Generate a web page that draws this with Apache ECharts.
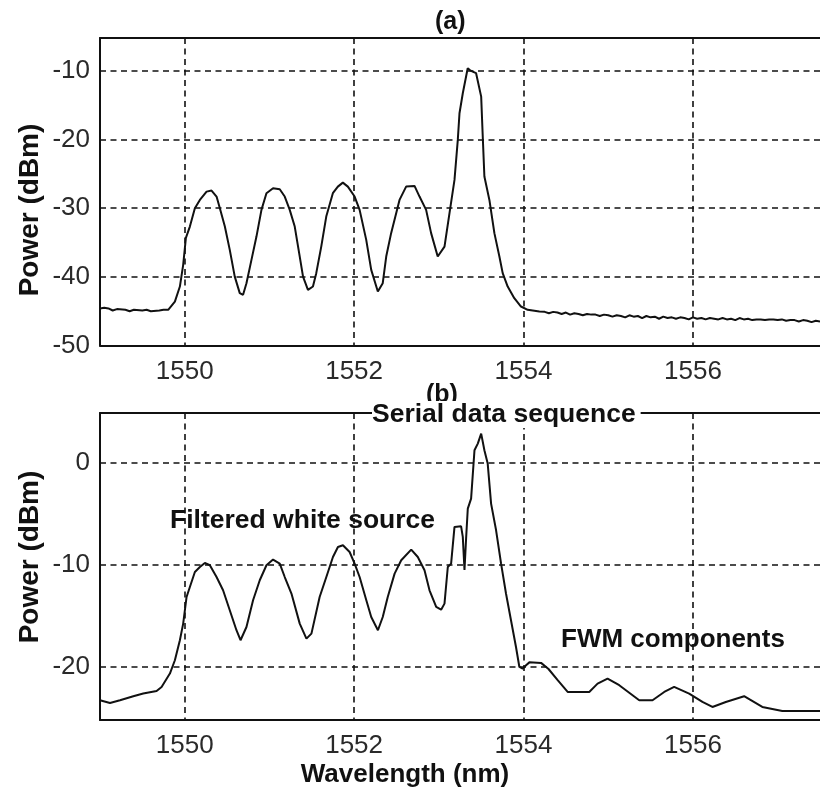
<!DOCTYPE html>
<html>
<head>
<meta charset="utf-8">
<title>Optical spectra</title>
<script src="https://cdn.jsdelivr.net/npm/echarts@6/dist/echarts.min.js"></script>
<style>
  html, body { margin: 0; padding: 0; background: #fff; }
  #chart { width: 820px; height: 792px; }
</style>
</head>
<body>
<div id="chart"></div>
<script>
// Panel (a): spectrum of the filtered white source and the data channel
const topWavelength = [
  1549.00, 1549.05, 1549.10, 1549.15, 1549.20, 1549.30, 1549.35, 1549.40, 1549.50, 1549.55, 1549.60, 1549.70, 1549.75,
  1549.805, 1549.884, 1549.943, 1549.982, 1550.014, 1550.061, 1550.120, 1550.179, 1550.258, 1550.317, 1550.376,
  1550.415, 1550.474, 1550.532, 1550.591, 1550.650, 1550.689, 1550.729, 1550.788, 1550.847, 1550.906, 1550.965,
  1551.043, 1551.122, 1551.181, 1551.240, 1551.299, 1551.358, 1551.397, 1551.455, 1551.514, 1551.553, 1551.612,
  1551.671, 1551.749, 1551.808, 1551.867, 1551.926, 1552.006, 1552.065, 1552.143, 1552.202, 1552.280, 1552.338,
  1552.379, 1552.437, 1552.536, 1552.614, 1552.713, 1552.772, 1552.850, 1552.909, 1552.987, 1553.067, 1553.126,
  1553.185, 1553.224, 1553.244, 1553.283, 1553.341, 1553.370, 1553.400, 1553.440, 1553.500, 1553.517, 1553.538,
  1553.597, 1553.656, 1553.715, 1553.754, 1553.813, 1553.891, 1553.970, 1554.049, 1554.187,
  1554.25, 1554.30, 1554.35, 1554.40, 1554.45, 1554.50, 1554.55, 1554.60, 1554.65, 1554.70, 1554.75, 1554.80,
  1554.85, 1554.90, 1554.95, 1555.00, 1555.05, 1555.10, 1555.15, 1555.20, 1555.25, 1555.30, 1555.35, 1555.40,
  1555.45, 1555.50, 1555.55, 1555.60, 1555.65, 1555.70, 1555.75, 1555.80, 1555.85, 1555.90, 1555.95, 1556.00,
  1556.05, 1556.10, 1556.15, 1556.20, 1556.25, 1556.30, 1556.35, 1556.40, 1556.45, 1556.50, 1556.55, 1556.60,
  1556.65, 1556.70, 1556.75, 1556.80, 1556.85, 1556.90, 1556.95, 1557.00, 1557.05, 1557.10, 1557.15, 1557.20,
  1557.25, 1557.30, 1557.35, 1557.40, 1557.45, 1557.50
];
const topPower = [
  -44.6, -44.5, -44.6, -44.9, -44.7, -44.8, -45.0, -44.8, -44.9, -44.8, -45.0, -44.9, -44.8,
  -44.80, -43.60, -41.41, -38.25, -34.32, -32.67, -30.00, -28.79, -27.58, -27.43, -28.30,
  -30.00, -32.67, -36.07, -39.96, -42.37, -42.62, -40.92, -37.52, -34.13, -30.24, -27.81,
  -27.08, -27.23, -28.30, -30.24, -32.67, -37.04, -39.96, -41.89, -41.41, -39.46, -35.59,
  -31.22, -27.81, -26.85, -26.27, -26.85, -28.30, -30.24, -34.61, -38.98, -42.14, -40.92,
  -37.04, -33.63, -28.79, -26.85, -26.75, -28.30, -30.24, -33.63, -37.04, -35.59, -30.72,
  -25.87, -20.05, -16.16, -13.25, -9.61, -9.90, -10.10, -10.33, -13.74, -19.07, -25.39,
  -28.79, -33.63, -37.04, -39.46, -41.41, -43.10, -44.32, -44.80, -45.05,
  -45.1, -45.3, -45.1, -45.2, -45.4, -45.2, -45.5, -45.3, -45.4, -45.6, -45.4, -45.5,
  -45.5, -45.7, -45.5, -45.6, -45.8, -45.6, -45.7, -45.9, -45.6, -45.8, -45.7, -46.0,
  -45.7, -45.9, -45.8, -46.1, -45.8, -46.0, -45.9, -46.1, -45.9, -46.0, -46.2, -45.9,
  -46.1, -46.0, -46.2, -46.0, -46.1, -46.2, -46.0, -46.2, -46.1, -46.3, -46.0, -46.2,
  -46.1, -46.3, -46.2, -46.2, -46.3, -46.2, -46.2, -46.3, -46.2, -46.4, -46.3, -46.3,
  -46.5, -46.3, -46.4, -46.6, -46.4, -46.5
];

// Panel (b): serial data sequence with four-wave-mixing products
const bottomWavelength = [
  1549.000, 1549.118, 1549.236, 1549.393, 1549.510, 1549.668, 1549.727, 1549.825, 1549.884, 1549.943, 1549.982,
  1550.022, 1550.061, 1550.120, 1550.179, 1550.238, 1550.297, 1550.376, 1550.453, 1550.532, 1550.611, 1550.659,
  1550.729, 1550.807, 1550.886, 1550.965, 1551.043, 1551.122, 1551.181, 1551.260, 1551.358, 1551.437, 1551.496,
  1551.593, 1551.672, 1551.750, 1551.809, 1551.868, 1551.947, 1552.006, 1552.065, 1552.144, 1552.202, 1552.281,
  1552.338, 1552.397, 1552.478, 1552.556, 1552.674, 1552.752, 1552.831, 1552.890, 1552.969, 1553.027, 1553.067,
  1553.106, 1553.145, 1553.185, 1553.263, 1553.283, 1553.303, 1553.322, 1553.342, 1553.381, 1553.421, 1553.460,
  1553.500, 1553.538, 1553.577, 1553.617, 1553.676, 1553.735, 1553.793, 1553.852, 1553.911, 1553.951, 1553.990,
  1554.030, 1554.069, 1554.207, 1554.295, 1554.403, 1554.521, 1554.776, 1554.874, 1554.992, 1555.130, 1555.366,
  1555.523, 1555.661, 1555.778, 1555.955, 1556.112, 1556.230, 1556.388, 1556.604, 1556.819, 1557.055, 1557.500
];
const bottomPower = [
  -23.26, -23.53, -23.26, -22.87, -22.61, -22.35, -21.96, -20.65, -19.34, -17.38, -15.75,
  -13.14, -12.16, -10.69, -10.20, -9.80, -10.03, -11.18, -12.48, -14.44, -16.40, -17.38,
  -16.08, -13.46, -11.50, -10.03, -9.47, -9.86, -11.18, -12.80, -15.75, -17.22, -16.73,
  -13.14, -11.18, -9.22, -8.24, -8.07, -8.73, -9.87, -11.18, -13.46, -15.10, -16.40,
  -15.10, -13.14, -10.85, -9.54, -8.49, -9.22, -10.52, -12.48, -14.12, -14.38, -13.79,
  -10.20, -9.87, -6.27, -6.21, -7.25, -10.50, -7.41, -4.47, -3.49, 1.25, 1.90,
  2.88, 1.25, -0.06, -3.98, -6.60, -9.87, -12.80, -15.42, -18.04, -20.00, -20.16,
  -19.83, -19.55, -19.60, -20.20, -21.30, -22.45, -22.45, -21.63, -21.14, -21.79, -23.26,
  -23.26, -22.45, -21.96, -22.61, -23.43, -23.92, -23.43, -22.87, -23.92, -24.31, -24.31
];

// Axis extents of the two panels
const xRange = [1549, 1557.5];
const topRange = [-50, -5.2];
const bottomRange = [-25.2, 4.9];

const textFont = '"Liberation Sans", Arial, sans-serif';
const ink = '#111';

function pairs(xs, ys) { return xs.map((x, i) => [x, ys[i]]); }
const plain = v => String(v);

const dashed = { show: true, lineStyle: { color: ink, width: 1.6, type: [6, 4.5] } };
const tickLabel = { color: '#2a2a2a', fontFamily: textFont, fontSize: 26, formatter: plain };

function bottomX(gridIndex) {
  return {
    type: 'value', gridIndex, position: 'bottom', min: xRange[0], max: xRange[1], splitNumber: 4,
    axisLine: { show: true, onZero: false, lineStyle: { color: ink, width: 2 } },
    axisTick: { show: false },
    axisLabel: Object.assign({ margin: 13, showMinLabel: false, showMaxLabel: false }, tickLabel),
    splitLine: Object.assign({ showMinLine: false, showMaxLine: false }, dashed)
  };
}
function topX(gridIndex) {
  return {
    type: 'value', gridIndex, position: 'top', min: xRange[0], max: xRange[1],
    axisLine: { show: true, onZero: false, lineStyle: { color: ink, width: 2 } },
    axisTick: { show: false }, axisLabel: { show: false }, splitLine: { show: false }
  };
}

const option = {
  backgroundColor: '#fff',
  animation: false,
  grid: [
    { left: 100, right: 0, top: 38, bottom: 446.5 },
    { left: 100, right: 0, top: 413, bottom: 72 }
  ],
  xAxis: [bottomX(0), topX(0), bottomX(1), topX(1)],
  yAxis: [
    {
      type: 'value', gridIndex: 0, min: topRange[0], max: topRange[1], interval: 10,
      axisLine: { show: true, onZero: false, lineStyle: { color: ink, width: 2 } },
      axisTick: { show: false },
      axisLabel: Object.assign({ margin: 10, showMaxLabel: false }, tickLabel),
      splitLine: Object.assign({ showMinLine: false, showMaxLine: false }, dashed)
    },
    {
      type: 'value', gridIndex: 1, min: bottomRange[0], max: bottomRange[1], splitNumber: 3,
      axisLine: { show: true, onZero: false, lineStyle: { color: ink, width: 2 } },
      axisTick: { show: false },
      axisLabel: Object.assign({ margin: 10, showMinLabel: false, showMaxLabel: false }, tickLabel),
      splitLine: Object.assign({ showMinLine: false, showMaxLine: false }, dashed)
    }
  ],
  series: [
    {
      type: 'line', xAxisIndex: 0, yAxisIndex: 0, data: pairs(topWavelength, topPower),
      showSymbol: false, symbol: 'none', lineStyle: { color: ink, width: 2 }, z: 5
    },
    {
      type: 'line', xAxisIndex: 2, yAxisIndex: 1, data: pairs(bottomWavelength, bottomPower),
      showSymbol: false, symbol: 'none', lineStyle: { color: ink, width: 2 }, z: 5
    }
  ],
  graphic: [
    { type: 'text', z: 100, left: 435, top: 10,
      style: { text: '(a)', font: 'bold 25px ' + textFont, fill: ink } },
    { type: 'text', z: 100, left: 426, top: 383,
      style: { text: '(b)', font: 'bold 25px ' + textFont, fill: ink } },
    { type: 'text', z: 101, left: 372, top: 401,
      style: { text: 'Serial data sequence', font: 'bold 26.5px ' + textFont, fill: ink,
               backgroundColor: '#fff', padding: [0, 5, 0, 0] } },
    { type: 'text', z: 100, left: 170, top: 507,
      style: { text: 'Filtered white source', font: 'bold 26.5px ' + textFont, fill: ink } },
    { type: 'text', z: 100, left: 561, top: 627,
      style: { text: 'FWM components', font: 'bold 26px ' + textFont, fill: ink } },
    { type: 'text', z: 100, x: 405, y: 775,
      style: { text: 'Wavelength (nm)', font: 'bold 26px ' + textFont, fill: ink,
               textAlign: 'center', textVerticalAlign: 'middle' } },
    { type: 'text', z: 100, x: 30, y: 210, rotation: Math.PI / 2,
      style: { text: 'Power (dBm)', font: 'bold 28px ' + textFont, fill: ink,
               textAlign: 'center', textVerticalAlign: 'middle' } },
    { type: 'text', z: 100, x: 30, y: 557, rotation: Math.PI / 2,
      style: { text: 'Power (dBm)', font: 'bold 28px ' + textFont, fill: ink,
               textAlign: 'center', textVerticalAlign: 'middle' } }
  ]
};

const chart = echarts.init(document.getElementById('chart'), null, { renderer: 'canvas' });
chart.setOption(option);
</script>
</body>
</html>
